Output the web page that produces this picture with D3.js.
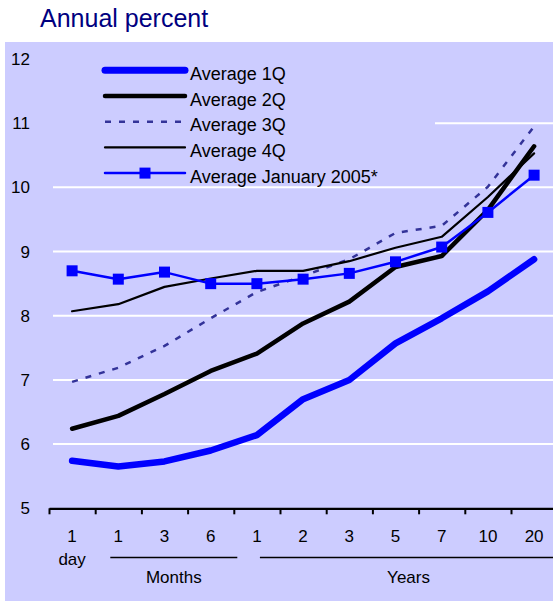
<!DOCTYPE html>
<html>
<head>
<meta charset="utf-8">
<script src="https://cdn.jsdelivr.net/npm/d3@7"></script>
<style>
  body { margin: 0; background: #fff; }
  text { font-family: "Liberation Sans", Arial, sans-serif; }
</style>
</head>
<body>
<script>
// Chart data
var maturities = ["1d", "1m", "3m", "6m", "1y", "2y", "3y", "5y", "7y", "10y", "20y"];
var tickLabels = ["1", "1", "3", "6", "1", "2", "3", "5", "7", "10", "20"];
var yTicks = [5, 6, 7, 8, 9, 10, 11, 12];

var avg1Q = [5.74, 5.65, 5.73, 5.90, 6.14, 6.70, 7.00, 7.57, 7.96, 8.38, 8.88];
var avg2Q = [6.24, 6.44, 6.78, 7.14, 7.41, 7.88, 8.22, 8.76, 8.93, 9.65, 10.64];
var avg3Q = [6.97, 7.19, 7.53, 7.96, 8.37, 8.62, 8.88, 9.29, 9.40, 10.01, 10.95];
var avg4Q = [8.07, 8.18, 8.45, 8.58, 8.70, 8.70, 8.85, 9.06, 9.23, 9.85, 10.53];
var avgJan05 = [8.70, 8.57, 8.68, 8.50, 8.50, 8.57, 8.66, 8.84, 9.07, 9.61, 10.19];

var groupNames = ["day", "Months", "Years"];
var groupFirst = ["1d", "1m", "1y"];
var groupLast = ["1d", "6m", "20y"];

var seriesNames = ["Average 1Q", "Average 2Q", "Average 3Q", "Average 4Q", "Average January 2005*"];

// Chart params
var svgWidth = 553;
var svgHeight = 601;

var svg = d3.select("body")
  .append("svg")
  .attr("width", svgWidth)
  .attr("height", svgHeight);

// lavender panel
svg.append("rect")
  .attr("x", 5).attr("y", 42)
  .attr("width", svgWidth - 5).attr("height", svgHeight - 42)
  .attr("fill", "#ccccff");

// title
svg.append("text")
  .attr("x", 40).attr("y", 27)
  .style("font-size", "25px")
  .attr("fill", "#000080")
  .text("Annual percent");

var x0 = 49, x1 = 557.2;
var xBand = d3.scaleBand().domain(maturities).range([x0, x1]);
var xIdx = d3.scaleLinear().domain([0, maturities.length]).range([x0, x1]);
var y = d3.scaleLinear().domain([5, 12]).range([508.3, 59]);

var cx = function(m) { return xBand(m) + xBand.bandwidth() / 2; };

// gridlines (top one sits on the plot edge and is not drawn)
svg.append("g")
  .selectAll("line")
  .data(yTicks.filter(function(d) { return d > 5 && d < 12; }))
  .enter()
  .append("line")
  .attr("x1", 53).attr("x2", svgWidth)
  .attr("y1", d => y(d)).attr("y2", d => y(d))
  .attr("stroke", "#fff")
  .attr("stroke-width", 2);

// y labels
svg.append("g")
  .selectAll("text")
  .data(yTicks)
  .enter()
  .append("text")
  .attr("x", 30)
  .attr("y", d => y(d))
  .attr("dy", "0.36em")
  .attr("text-anchor", "end")
  .style("font-size", "17px")
  .text(d => d);

// x axis (ticks between categories)
var xAxis = d3.axisBottom(xIdx)
  .tickValues(d3.range(maturities.length + 1))
  .tickFormat("")
  .tickSizeInner(6)
  .tickSizeOuter(0);

var axisG = svg.append("g")
  .attr("transform", "translate(0," + y(5) + ")")
  .call(xAxis);
axisG.select(".domain").attr("stroke", "#000").attr("stroke-width", 2.2);
axisG.selectAll(".tick line").attr("stroke", "#000").attr("stroke-width", 2);

// category labels
var labelAxis = d3.axisBottom(xBand)
  .tickSize(0)
  .tickPadding(0)
  .tickFormat(function(d, i) { return tickLabels[i]; });

var labelG = svg.append("g")
  .attr("transform", "translate(0,529.5)")
  .call(labelAxis);
labelG.select(".domain").remove();
labelG.selectAll("text")
  .attr("dy", "0.71em")
  .attr("fill", "#000")
  .style("font-size", "17px")
  .style("font-family", "'Liberation Sans', Arial, sans-serif");

// group labels under the axis
var groupLineStart = [0, -8, 3];
var groupLineEnd = [0, 26.6, 23.1];
groupNames.forEach(function(name, i) {
  if (name === "day") {
    svg.append("text")
      .attr("x", cx(groupFirst[i]))
      .attr("y", 565)
      .attr("text-anchor", "middle")
      .style("font-size", "17px")
      .text(name);
    return;
  }
  var lx1 = cx(groupFirst[i]) + groupLineStart[i];
  var lx2 = cx(groupLast[i]) + groupLineEnd[i];
  svg.append("line")
    .attr("x1", lx1).attr("x2", lx2)
    .attr("y1", 557.5).attr("y2", 557.5)
    .attr("stroke", "#000")
    .attr("stroke-width", 1.5);
  svg.append("text")
    .attr("x", (lx1 + lx2) / 2)
    .attr("y", 582.5)
    .attr("text-anchor", "middle")
    .style("font-size", "17px")
    .text(name);
});

// series lines
var line = d3.line()
  .x(function(d, i) { return cx(maturities[i]); })
  .y(d => y(d));

var seriesStyle = [
  { data: avg1Q, color: "#0000ff", width: 6.5, dash: null, cap: "round" },
  { data: avg2Q, color: "#000000", width: 4.5, dash: null, cap: "round" },
  { data: avg3Q, color: "#333399", width: 2.5, dash: "6,8", cap: "butt" },
  { data: avg4Q, color: "#000000", width: 2.2, dash: null, cap: "round" },
  { data: avgJan05, color: "#0000ff", width: 2.5, dash: null, cap: "round", marker: true }
];

// legend background (hides gridlines behind it)
svg.append("rect")
  .attr("x", 53).attr("y", 55)
  .attr("width", 382).attr("height", 128)
  .attr("fill", "#ccccff");

seriesStyle.forEach(function(s) {
  svg.append("path")
    .attr("d", line(s.data))
    .attr("fill", "none")
    .attr("stroke", s.color)
    .attr("stroke-width", s.width)
    .attr("stroke-dasharray", s.dash)
    .attr("stroke-linecap", s.cap)
    .attr("stroke-linejoin", "round");
  if (s.marker) {
    svg.append("g")
      .selectAll("rect")
      .data(s.data)
      .enter()
      .append("rect")
      .attr("x", (d, i) => cx(maturities[i]) - 5.5)
      .attr("y", d => y(d) - 5.5)
      .attr("width", 11).attr("height", 11)
      .attr("fill", s.color);
  }
});

// legend
var legend = svg.append("g");
seriesStyle.forEach(function(s, i) {
  var ly = 70.3 + i * 25.7;
  legend.append("line")
    .attr("x1", 105).attr("x2", 185)
    .attr("y1", ly).attr("y2", ly)
    .attr("stroke", s.color)
    .attr("stroke-width", i === 0 ? 7 : s.width)
    .attr("stroke-dasharray", s.dash)
    .attr("stroke-linecap", s.cap);
  if (s.marker) {
    legend.append("rect")
      .attr("x", 145 - 5.5).attr("y", ly - 5.5)
      .attr("width", 11).attr("height", 11)
      .attr("fill", s.color);
  }
  legend.append("text")
    .attr("x", 190)
    .attr("y", ly + 9.5)
    .style("font-size", "18px")
    .text(seriesNames[i]);
});
</script>
</body>
</html>
